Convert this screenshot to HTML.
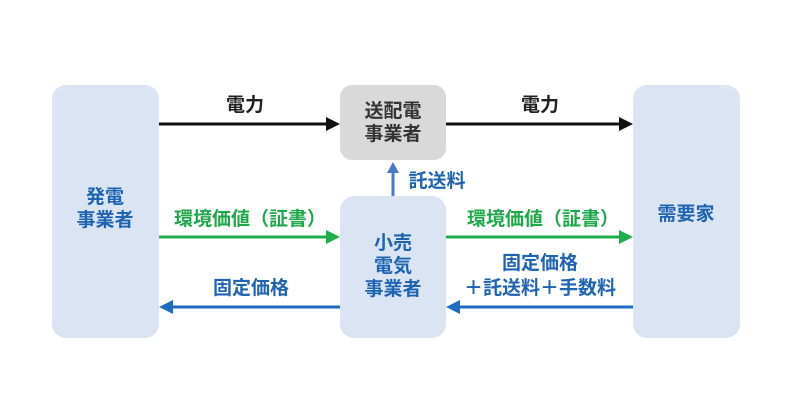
<!DOCTYPE html>
<html><head><meta charset="utf-8"><style>
body{margin:0;width:800px;height:400px;background:#fff;overflow:hidden}
</style></head><body>
<svg width="800" height="400" xmlns="http://www.w3.org/2000/svg" font-family="'Liberation Sans','Noto Sans CJK JP',sans-serif" font-weight="bold">
<rect x="52" y="85" width="107" height="253" rx="14" fill="#dbe4f3"/>
<rect x="633" y="85" width="107" height="253" rx="14" fill="#dbe4f3"/>
<rect x="340" y="85" width="106" height="75" rx="12" fill="#d9d9d9"/>
<rect x="340" y="196" width="106" height="142" rx="14" fill="#dbe4f3"/>
<g font-size="19" text-anchor="middle">
<text x="105" y="203" fill="#1f63b3">発電</text>
<text x="105" y="226" fill="#1f63b3">事業者</text>
<text x="686" y="220" fill="#1f63b3">需要家</text>
<text x="393" y="117" fill="#333">送配電</text>
<text x="393" y="140" fill="#333">事業者</text>
<text x="393" y="249" fill="#1f63b3">小売</text>
<text x="393" y="272" fill="#1f63b3">電気</text>
<text x="393" y="295" fill="#1f63b3">事業者</text>
<text x="245" y="111" fill="#222">電力</text>
<text x="540" y="111" fill="#222">電力</text>
<text x="250" y="225" fill="#1fa84a">環境価値（証書）</text>
<text x="543" y="225" fill="#1fa84a">環境価値（証書）</text>
<text x="251" y="294" fill="#1f63b3">固定価格</text>
<text x="540" y="269" fill="#1f63b3">固定価格</text>
<text x="540" y="294" fill="#1f63b3">＋託送料＋手数料</text>
<text x="437" y="187" fill="#1f63b3">託送料</text>
</g>
<g stroke-width="3">
<line x1="159" y1="124" x2="328" y2="124" stroke="#111"/>
<line x1="446" y1="124" x2="620" y2="124" stroke="#111"/>
<line x1="159" y1="237" x2="328" y2="237" stroke="#22ad4c"/>
<line x1="446" y1="237" x2="620" y2="237" stroke="#22ad4c"/>
<line x1="172" y1="307" x2="340" y2="307" stroke="#1f6dc0"/>
<line x1="459" y1="307" x2="633" y2="307" stroke="#1f6dc0"/>
<line x1="393" y1="196" x2="393" y2="172" stroke="#4a78c8"/>
</g>
<polygon points="340,124 326,117 326,131" fill="#111"/>
<polygon points="633,124 619,117 619,131" fill="#111"/>
<polygon points="340,237 326,230 326,244" fill="#22ad4c"/>
<polygon points="633,237 619,230 619,244" fill="#22ad4c"/>
<polygon points="159,307 173,300 173,314" fill="#1f6dc0"/>
<polygon points="446,307 460,300 460,314" fill="#1f6dc0"/>
<polygon points="393,162 387,173 399,173" fill="#4a78c8"/>
</svg>
</body></html>
